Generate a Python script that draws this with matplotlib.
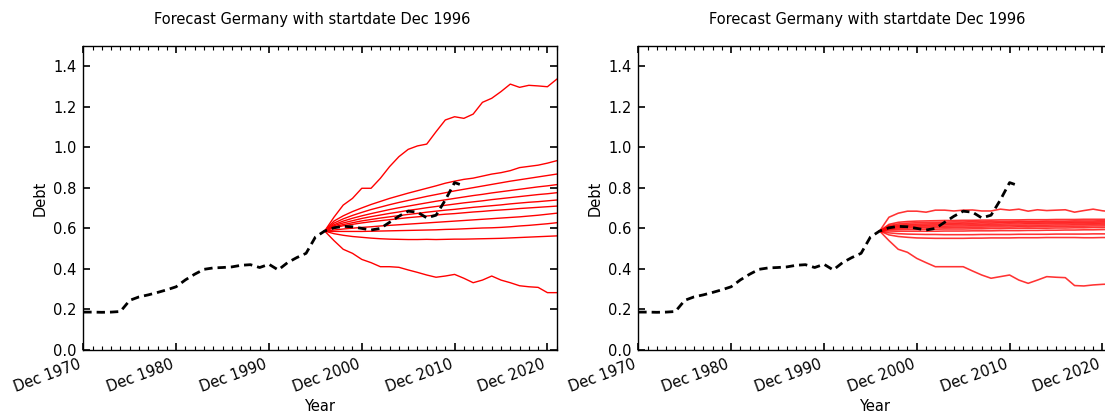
import matplotlib
matplotlib.use("Agg")
import matplotlib.pyplot as plt
import matplotlib.dates as mdates
import pandas as pd

plt.rcParams['font.family'] = ['DejaVu Sans']
plt.rcParams['lines.scale_dashes'] = False

# ---------------- data ----------------
hist_years = list(range(1970, 2012))
hist_debt = [0.187, 0.187, 0.186, 0.187, 0.190, 0.245, 0.262, 0.272, 0.284, 0.297,
             0.312, 0.346, 0.374, 0.398, 0.405, 0.407, 0.410, 0.418, 0.421, 0.407,
             0.423, 0.395, 0.431, 0.456, 0.477, 0.557, 0.587, 0.603, 0.610, 0.608,
             0.600, 0.592, 0.600, 0.630, 0.660, 0.685, 0.680, 0.652, 0.665, 0.740,
             0.826, 0.810]

fc_years = list(range(1996, 2022))

# left panel: forecast quantile paths (max, 90% ... 10%, min)
left_max = [0.587, 0.655, 0.715, 0.748, 0.798, 0.798, 0.847, 0.905, 0.954, 0.990,
            1.007, 1.016, 1.077, 1.135, 1.151, 1.143, 1.164, 1.222, 1.242, 1.275,
            1.312, 1.296, 1.306, 1.303, 1.299, 1.336]
left_q90 = [0.587, 0.636, 0.662, 0.683, 0.701, 0.718, 0.733, 0.748, 0.761, 0.774,
            0.786, 0.798, 0.810, 0.823, 0.833, 0.842, 0.848, 0.858, 0.868, 0.875,
            0.885, 0.900, 0.906, 0.912, 0.922, 0.934]
left_q80 = [0.587, 0.626, 0.647, 0.664, 0.679, 0.693, 0.705, 0.717, 0.728, 0.738,
            0.748, 0.758, 0.767, 0.776, 0.785, 0.793, 0.801, 0.809, 0.817, 0.825,
            0.833, 0.840, 0.847, 0.854, 0.861, 0.868]
left_q70 = [0.587, 0.618, 0.636, 0.650, 0.662, 0.673, 0.683, 0.693, 0.702, 0.710,
            0.718, 0.726, 0.734, 0.741, 0.748, 0.755, 0.762, 0.768, 0.775, 0.781,
            0.787, 0.793, 0.799, 0.805, 0.810, 0.816]
left_q60 = [0.587, 0.613, 0.627, 0.638, 0.649, 0.658, 0.666, 0.674, 0.681, 0.689,
            0.695, 0.702, 0.708, 0.714, 0.720, 0.726, 0.731, 0.736, 0.742, 0.747,
            0.752, 0.757, 0.762, 0.767, 0.771, 0.776]
left_q50 = [0.587, 0.607, 0.619, 0.628, 0.637, 0.644, 0.651, 0.657, 0.663, 0.669,
            0.674, 0.680, 0.685, 0.690, 0.694, 0.699, 0.704, 0.708, 0.712, 0.716,
            0.721, 0.725, 0.729, 0.732, 0.736, 0.740]
left_q40 = [0.587, 0.603, 0.613, 0.620, 0.627, 0.633, 0.638, 0.643, 0.648, 0.653,
            0.657, 0.661, 0.666, 0.670, 0.673, 0.677, 0.681, 0.684, 0.688, 0.691,
            0.694, 0.698, 0.701, 0.704, 0.707, 0.710]
left_q30 = [0.587, 0.592, 0.597, 0.601, 0.605, 0.608, 0.612, 0.615, 0.618, 0.621,
            0.624, 0.627, 0.630, 0.633, 0.636, 0.639, 0.642, 0.645, 0.648, 0.651,
            0.654, 0.657, 0.661, 0.665, 0.670, 0.675]
left_q20 = [0.587, 0.585, 0.585, 0.585, 0.585, 0.586, 0.587, 0.588, 0.589, 0.590,
            0.591, 0.592, 0.593, 0.595, 0.596, 0.598, 0.600, 0.602, 0.603, 0.605,
            0.608, 0.612, 0.615, 0.619, 0.623, 0.628]
left_q10 = [0.587, 0.574, 0.566, 0.560, 0.556, 0.552, 0.549, 0.547, 0.546, 0.545,
            0.545, 0.546, 0.545, 0.546, 0.547, 0.547, 0.548, 0.549, 0.550, 0.551,
            0.553, 0.555, 0.557, 0.559, 0.561, 0.563]
left_min = [0.587, 0.540, 0.497, 0.477, 0.447, 0.431, 0.411, 0.411, 0.408, 0.395,
            0.383, 0.370, 0.359, 0.365, 0.373, 0.354, 0.332, 0.345, 0.365, 0.345,
            0.332, 0.317, 0.312, 0.309, 0.283, 0.283]

# right panel: forecast quantile paths (tighter model)
right_max = [0.587, 0.655, 0.675, 0.685, 0.685, 0.680, 0.690, 0.690, 0.686, 0.690,
             0.691, 0.686, 0.686, 0.695, 0.690, 0.695, 0.685, 0.692, 0.688, 0.690,
             0.692, 0.680, 0.688, 0.695, 0.687, 0.682]
right_q90 = [0.587, 0.620, 0.630, 0.634, 0.636, 0.637, 0.638, 0.639, 0.639, 0.640,
             0.640, 0.641, 0.641, 0.642, 0.642, 0.642, 0.643, 0.643, 0.643, 0.644,
             0.644, 0.644, 0.645, 0.645, 0.645, 0.645]
right_q80 = [0.587, 0.614, 0.622, 0.626, 0.628, 0.629, 0.630, 0.631, 0.632, 0.632,
             0.633, 0.633, 0.634, 0.634, 0.634, 0.635, 0.635, 0.635, 0.636, 0.636,
             0.636, 0.637, 0.637, 0.637, 0.638, 0.638]
right_q70 = [0.587, 0.609, 0.616, 0.619, 0.621, 0.622, 0.623, 0.624, 0.625, 0.626,
             0.626, 0.627, 0.627, 0.628, 0.628, 0.629, 0.629, 0.629, 0.630, 0.630,
             0.630, 0.631, 0.631, 0.631, 0.632, 0.632]
right_q60 = [0.587, 0.605, 0.611, 0.614, 0.615, 0.616, 0.617, 0.618, 0.619, 0.619,
             0.620, 0.620, 0.621, 0.621, 0.622, 0.622, 0.623, 0.623, 0.623, 0.624,
             0.624, 0.625, 0.625, 0.625, 0.626, 0.626]
right_q50 = [0.587, 0.601, 0.606, 0.608, 0.609, 0.610, 0.611, 0.611, 0.612, 0.612,
             0.613, 0.613, 0.614, 0.614, 0.615, 0.615, 0.616, 0.616, 0.616, 0.617,
             0.617, 0.618, 0.618, 0.619, 0.619, 0.620]
right_q40 = [0.587, 0.597, 0.600, 0.602, 0.603, 0.603, 0.604, 0.604, 0.605, 0.605,
             0.606, 0.606, 0.607, 0.607, 0.607, 0.608, 0.608, 0.609, 0.609, 0.610,
             0.610, 0.611, 0.611, 0.612, 0.612, 0.613]
right_q30 = [0.587, 0.593, 0.594, 0.595, 0.595, 0.596, 0.596, 0.597, 0.597, 0.597,
             0.598, 0.598, 0.599, 0.599, 0.600, 0.600, 0.601, 0.601, 0.601, 0.602,
             0.602, 0.603, 0.603, 0.604, 0.604, 0.605]
right_q20 = [0.587, 0.587, 0.586, 0.586, 0.586, 0.586, 0.586, 0.587, 0.587, 0.587,
             0.588, 0.588, 0.588, 0.589, 0.589, 0.589, 0.590, 0.590, 0.591, 0.591,
             0.592, 0.592, 0.593, 0.593, 0.594, 0.595]
right_q10 = [0.587, 0.578, 0.574, 0.572, 0.571, 0.570, 0.570, 0.569, 0.569, 0.569,
             0.569, 0.570, 0.570, 0.570, 0.570, 0.571, 0.571, 0.571, 0.571, 0.572,
             0.572, 0.572, 0.572, 0.573, 0.573, 0.573]
right_q05 = [0.587, 0.568, 0.560, 0.556, 0.553, 0.552, 0.551, 0.551, 0.551, 0.551,
             0.552, 0.552, 0.553, 0.553, 0.553, 0.554, 0.554, 0.554, 0.555, 0.555,
             0.555, 0.555, 0.554, 0.554, 0.555, 0.555]
right_min = [0.587, 0.540, 0.497, 0.482, 0.452, 0.431, 0.411, 0.411, 0.411, 0.411,
             0.390, 0.370, 0.354, 0.362, 0.370, 0.345, 0.329, 0.345, 0.362, 0.359,
             0.357, 0.318, 0.316, 0.321, 0.324, 0.326]

tick_years = [1970, 1980, 1990, 2000, 2010, 2020]
yticks = [0.0, 0.2, 0.4, 0.6, 0.8, 1.0, 1.2, 1.4]
title = "Forecast Germany with startdate Dec 1996"

left_paths = [left_max, left_q90, left_q80, left_q70, left_q60, left_q50,
              left_q40, left_q30, left_q20, left_q10, left_min]
right_paths = [right_max, right_q90, right_q80, right_q70, right_q60, right_q50,
               right_q40, right_q30, right_q20, right_q10, right_q05, right_min]


def dec(years):
    return pd.to_datetime([f"{y}-12-31" for y in years])


FS = 10.5
fig = plt.figure(figsize=(11.05, 4.15), dpi=100, facecolor='white')
W, H = 1105.0, 415.0
ax_w = 473.4 / W
ax_h = 304.0 / H
ax_b = (H - 350.0) / H
axL = fig.add_axes([83.3 / W, ax_b, ax_w, ax_h])
axR = fig.add_axes([638.3 / W, ax_b, ax_w, ax_h])

for ax, paths, alpha, lw in [(axL, left_paths, 1.0, 1.0), (axR, right_paths, 0.8, 1.15)]:
    for p in paths:
        ax.plot(dec(fc_years), p, color='#ff0000', lw=lw, alpha=alpha, zorder=2)
    ax.plot(dec(hist_years), hist_debt, color='black', lw=2.0,
            linestyle=(0, (6, 3.6)), zorder=3)
    ax.set_xlim(dec([1970])[0], dec([2021])[0])
    ax.set_ylim(0, 1.5)
    ax.set_yticks(yticks)
    ax.set_yticklabels([f"{v:.1f}" for v in yticks], fontsize=FS)
    ax.set_xticks(dec(tick_years))
    ax.set_xticks(dec(range(1970, 2022)), minor=True)
    ax.xaxis.set_major_formatter(mdates.DateFormatter('%b %Y'))
    for lab in ax.get_xticklabels():
        lab.set_rotation(20)
        lab.set_ha('right')
        lab.set_fontsize(FS)
    ax.tick_params(which='both', direction='in', top=True, right=True)
    ax.tick_params(which='major', length=5, width=1.2, pad=5)
    ax.tick_params(which='minor', length=3, width=0.8)
    for s in ax.spines.values():
        s.set_linewidth(1.0)
    ax.set_xlabel("Year", fontsize=FS, labelpad=3)
    ax.set_ylabel("Debt", fontsize=FS, labelpad=4)
    ax.set_title(title, fontsize=FS, pad=16, x=0.483)

fig.savefig("out.png", dpi=100, facecolor='white')
